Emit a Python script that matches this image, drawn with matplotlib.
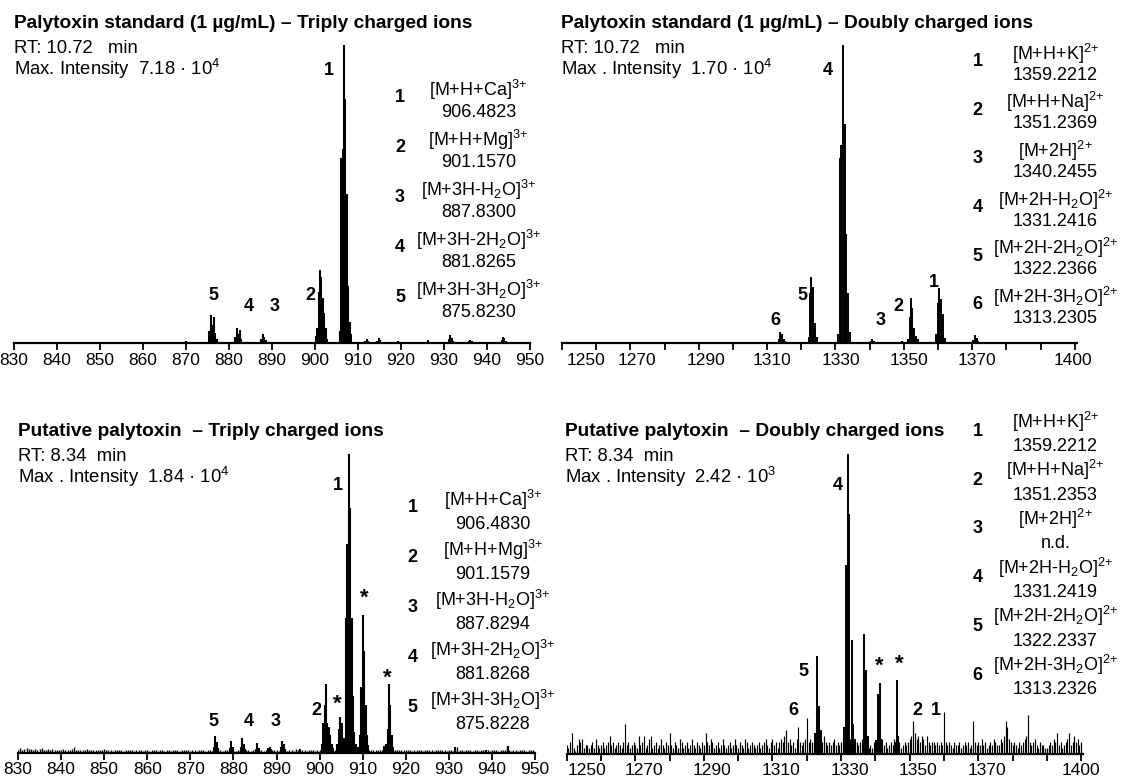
import numpy as np
import matplotlib
matplotlib.use("Agg")
import matplotlib.pyplot as plt

plt.rcParams['font.family'] = ['Liberation Sans', 'DejaVu Sans']
plt.rcParams['mathtext.fontset'] = 'custom'
plt.rcParams['mathtext.rm'] = 'Liberation Sans'
plt.rcParams['mathtext.it'] = 'Liberation Sans:italic'
plt.rcParams['mathtext.bf'] = 'Liberation Sans:bold'
plt.rcParams['mathtext.default'] = 'regular'

# ------------------------------------------------------------------ data
# Top-left: palytoxin standard, triply charged (relative intensity)
tl_mz = [869.9, 875.4, 875.74, 876.08, 876.42, 876.76, 877.1,
         881.45, 881.79, 882.12, 882.45, 882.8,
         887.5, 887.84, 888.17, 888.5, 895.7,
         900.2, 900.5, 900.83, 901.16, 901.5, 901.83, 902.16, 902.5, 902.83,
         905.8, 906.1, 906.42, 906.75, 907.08, 907.4, 907.72, 908.05, 908.4,
         911.7, 912.05, 912.4, 914.5, 914.8, 915.15, 915.5, 919.2,
         926.0, 926.3, 926.6, 931.1, 931.4, 931.75, 932.1,
         935.8, 936.1, 936.45, 943.4, 943.7, 944.05, 944.4]
tl_int = [0.008, 0.04, 0.095, 0.06, 0.087, 0.035, 0.012,
          0.02, 0.05, 0.03, 0.042, 0.015,
          0.012, 0.03, 0.02, 0.01, 0.005,
          0.025, 0.05, 0.17, 0.245, 0.22, 0.15, 0.10, 0.05, 0.015,
          0.04, 0.62, 0.65, 1.0, 0.82, 0.50, 0.19, 0.07, 0.03,
          0.006, 0.015, 0.008, 0.008, 0.017, 0.01, 0.005, 0.006,
          0.005, 0.01, 0.005, 0.012, 0.027, 0.018, 0.008,
          0.006, 0.011, 0.008, 0.01, 0.02, 0.018, 0.008]

# Top-right: palytoxin standard, doubly charged
tr_mz = [1313.35, 1313.85, 1314.35, 1314.85, 1315.35,
         1322.2, 1322.6, 1322.9, 1323.45, 1324.0, 1324.55,
         1330.8, 1331.3, 1331.75, 1332.2, 1332.65, 1333.2, 1333.7, 1334.2,
         1340.3, 1340.75, 1341.25, 1349.6,
         1351.3, 1351.75, 1352.05, 1352.5, 1353.0, 1353.5, 1354.0,
         1359.4, 1359.9, 1360.4, 1360.9, 1361.4, 1361.9,
         1370.3, 1370.8, 1371.3, 1371.8]
tr_int = [0.015, 0.038, 0.03, 0.015, 0.006,
          0.02, 0.167, 0.223, 0.187, 0.066, 0.021,
          0.03, 0.62, 0.665, 1.0, 0.734, 0.366, 0.167, 0.038,
          0.006, 0.013, 0.006, 0.008,
          0.015, 0.088, 0.152, 0.116, 0.049, 0.022, 0.012,
          0.03, 0.133, 0.184, 0.146, 0.096, 0.017,
          0.01, 0.027, 0.018, 0.008]

# Bottom-left: putative palytoxin, triply charged
bl_mz = [875.5, 875.8, 876.15, 876.5, 879.15, 879.45, 879.8,
         881.7, 882.0, 882.4, 882.7, 885.2, 885.5, 885.85,
         888.1, 888.4, 888.75, 891.0, 891.3, 891.65, 892.0, 895.5,
         900.5, 900.85, 901.18, 901.45, 901.8, 902.15, 902.5, 902.85, 903.2,
         904.1, 904.43, 904.76, 905.1, 905.43,
         905.75, 906.1, 906.45, 906.78, 907.1, 907.43, 907.76, 908.1, 908.45,
         909.0, 909.33, 909.66, 910.0, 910.33, 910.66, 911.0, 911.33,
         914.9, 915.45, 915.78, 916.12, 916.45, 916.8, 917.1,
         931.5, 938.6, 943.7]
bl_int = [0.02, 0.055, 0.036, 0.015, 0.015, 0.039, 0.02,
          0.02, 0.047, 0.03, 0.012, 0.012, 0.032, 0.015,
          0.015, 0.019, 0.012, 0.018, 0.039, 0.03, 0.012, 0.013,
          0.03, 0.10, 0.16, 0.23, 0.10, 0.085, 0.06, 0.03, 0.015,
          0.03, 0.08, 0.12, 0.10, 0.05,
          0.05, 0.45, 0.70, 1.0, 0.82, 0.45, 0.19, 0.07, 0.03,
          0.02, 0.06, 0.22, 0.46, 0.34, 0.16, 0.06, 0.025,
          0.021, 0.03, 0.08, 0.23, 0.16, 0.06, 0.02,
          0.017, 0.01, 0.021]
# baseline noise of bottom-left, per mille, every 0.5 from 830.0 to 950.0
bl_noise = [10, 14, 9, 12, 15, 11, 13, 10, 12, 9, 11, 14, 10, 8, 12, 9, 11, 10, 8, 9,
            9, 11, 8, 10, 7, 12, 17, 9, 8, 10, 7, 9, 11, 8, 10, 7, 9, 8, 10, 7,
            13, 8, 7, 9, 6, 8, 10, 7, 8, 6, 9, 7, 8, 10, 6, 7, 9, 8, 6, 7,
            8, 6, 9, 7, 8, 6, 7, 9, 6, 8, 7, 6, 9, 7, 8, 6, 7, 8, 10, 7,
            6, 7, 8, 6, 9, 7, 8, 6, 7, 8, 6, 7, 9, 7, 8, 6, 7, 8, 6, 7,
            7, 6, 8, 7, 6, 8, 7, 9, 6, 7, 8, 6, 7, 9, 6, 8, 7, 6, 8, 7,
            7, 6, 8, 7, 9, 6, 8, 7, 6, 12, 7, 6, 8, 7, 6, 8, 7, 9, 6, 8,
            8, 9, 10, 10, 10, 10, 9, 9, 10, 10, 9, 8, 10, 10, 9, 9, 10, 10, 9, 8,
            12, 10, 9, 8, 10, 9, 8, 7, 9, 8, 10, 9, 8, 7, 9, 8, 7, 9, 8, 7,
            8, 7, 9, 6, 8, 7, 9, 8, 6, 7, 8, 9, 7, 6, 8, 7, 9, 8, 7, 6,
            7, 8, 6, 9, 17, 8, 7, 6, 8, 7, 9, 6, 7, 8, 6, 7, 9, 8, 7, 6,
            8, 7, 9, 6, 8, 7, 7, 22, 9, 6, 8, 7, 6, 9, 7, 8, 6, 7, 8, 7, 6]

# Bottom-right: putative palytoxin, doubly charged
br_mz = [1322.3, 1322.85, 1323.3, 1323.65, 1324.1,
         1330.8, 1331.3, 1331.65, 1332.05, 1332.45, 1333.05, 1333.5, 1334.0,
         1336.8, 1337.3, 1337.8,
         1340.3, 1340.75, 1341.2, 1341.7,
         1345.8, 1346.2, 1346.7]
br_int = [0.07, 0.325, 0.10, 0.16, 0.08,
          0.09, 0.63, 0.63, 1.0, 0.80, 0.38, 0.10, 0.05,
          0.40, 0.28, 0.06,
          0.045, 0.20, 0.235, 0.05,
          0.04, 0.245, 0.06]
# noise of bottom-right, percent, every 0.5 from 1250.0 to 1400.0
br_noise = [3, 2, 4, 7, 2, 1, 3, 5, 4, 5, 2, 3, 3, 2, 3, 4, 2, 5, 3, 2,
            3, 4, 2, 3, 4, 6, 3, 4, 2, 3, 4, 3, 2, 4, 10, 3, 4, 2, 3, 4,
            3, 2, 6, 3, 4, 6, 2, 3, 5, 6, 2, 3, 4, 2, 3, 5, 3, 2, 4, 3,
            7, 3, 2, 4, 3, 2, 5, 4, 2, 3, 4, 2, 3, 5, 3, 2, 4, 3, 2, 4,
            3, 7, 4, 3, 5, 4, 2, 3, 4, 2, 3, 5, 3, 2, 3, 4, 2, 3, 5, 3,
            2, 4, 3, 2, 5, 4, 2, 3, 4, 3, 2, 3, 4, 2, 3, 4, 5, 3, 2, 4,
            5, 3, 4, 2, 4, 5, 4, 6, 8, 4, 5, 3, 4, 2, 5, 9, 4, 3, 4, 5,
            12, 4, 5, 4, 4, 7, 5, 6, 5, 4, 6, 4, 3, 4, 3, 4, 5, 3, 4, 3,
            4, 5, 5, 5, 5, 5, 5, 5, 4, 4, 3, 4, 5, 3, 4, 3, 2, 3, 2, 4,
            3, 4, 4, 3, 5, 3, 4, 2, 3, 4, 3, 5, 4, 3, 4, 2, 3, 4, 3, 4,
            5, 6, 11, 7, 5, 6, 4, 6, 5, 3, 6, 4, 3, 4, 4, 3, 4, 3, 4, 3,
            14, 4, 3, 4, 3, 2, 4, 3, 3, 4, 2, 3, 4, 3, 4, 2, 3, 11, 4, 3,
            4, 3, 5, 3, 4, 2, 3, 4, 3, 5, 4, 3, 3, 5, 4, 6, 11, 9, 5, 4,
            3, 4, 3, 2, 4, 3, 4, 5, 6, 13, 4, 3, 4, 5, 3, 2, 4, 3, 3, 2,
            2, 3, 4, 3, 5, 4, 7, 3, 4, 2, 3, 4, 5, 7, 3, 4, 6, 4, 5, 3, 4]

# peak annotations (label, m/z, relative height)
tl_labels = [("1", 903.2, 0.922), ("2", 899.0, 0.167), ("3", 890.7, 0.128),
             ("4", 884.65, 0.128), ("5", 876.3, 0.167)]
tr_labels = [("4", 1327.6, 0.922), ("5", 1320.2, 0.167), ("6", 1312.4, 0.083),
             ("3", 1343.2, 0.083), ("2", 1348.5, 0.128), ("1", 1358.8, 0.211)]
bl_labels = [("1", 904.2, 0.902), ("2", 899.2, 0.148), ("5", 875.3, 0.109),
             ("4", 883.6, 0.109), ("3", 889.7, 0.109),
             ("*", 904.2, 0.182), ("*", 910.4, 0.539), ("*", 915.8, 0.271)]
br_labels = [("4", 1328.9, 0.902), ("5", 1319.0, 0.28), ("6", 1316.1, 0.151),
             ("*", 1341.2, 0.312), ("*", 1347.1, 0.318),
             ("2", 1352.2, 0.151), ("1", 1357.7, 0.151)]

# legends
tri_ions = ["[M+H+Ca]$^{3\\!+}$", "[M+H+Mg]$^{3\\!+}$", "[M+3H-H$_2$O]$^{3\\!+}$",
            "[M+3H-2H$_2$O]$^{3\\!+}$", "[M+3H-3H$_2$O]$^{3\\!+}$"]
di_ions = ["[M+H+K]$^{2\\!+}$", "[M+H+Na]$^{2\\!+}$", "[M+2H]$^{2\\!+}$",
           "[M+2H-H$_2$O]$^{2\\!+}$", "[M+2H-2H$_2$O]$^{2\\!+}$", "[M+2H-3H$_2$O]$^{2\\!+}$"]
tl_vals = ["906.4823", "901.1570", "887.8300", "881.8265", "875.8230"]
bl_vals = ["906.4830", "901.1579", "887.8294", "881.8268", "875.8228"]
tr_vals = ["1359.2212", "1351.2369", "1340.2455", "1331.2416", "1322.2366", "1313.2305"]
br_vals = ["1359.2212", "1351.2353", "n.d.", "1331.2419", "1322.2337", "1313.2326"]

tri_ticks = list(range(830, 951, 10))
di_ticks = list(range(1250, 1401, 10))
di_labels = [1250, 1270, 1290, 1310, 1330, 1350, 1370, 1400]

# ------------------------------------------------------------------ figure
W, H = 1123, 782
fig = plt.figure(figsize=(W / 100, H / 100), dpi=100)

LABEL_FS = 13
TICK_FS = 12.5


def px_axes(x0, x1, ybase, ytop):
    return fig.add_axes([x0 / W, 1 - ybase / H, (x1 - x0) / W, (ybase - ytop) / H])


def style(ax, xlim):
    ax.set_xlim(*xlim)
    ax.set_ylim(0, 1.0)
    for s in ("top", "left", "right"):
        ax.spines[s].set_visible(False)
    ax.spines["bottom"].set_linewidth(1.6)
    ax.set_yticks([])
    ax.tick_params(axis="x", which="major", direction="out", length=5, width=1.3,
                   labelsize=TICK_FS, pad=2)
    ax.patch.set_alpha(0)


def ftext(x, yb, s, **kw):
    fig.text(x / W, 1 - yb / H, s, va="baseline", **kw)


def peak_labels(ax, labels):
    for lab, x, y in labels:
        if lab == "*":
            ax.annotate(lab, xy=(x, y), xytext=(0, -8.5), textcoords="offset points",
                        ha="center", va="baseline", fontsize=16, fontweight="bold",
                        annotation_clip=False)
        else:
            ax.annotate(lab, xy=(x, y), xytext=(0, -4.7), textcoords="offset points",
                        ha="center", va="baseline", fontsize=LABEL_FS, fontweight="bold",
                        annotation_clip=False)


def legend(xnum, xname, yb0, step, d1, d2, names, vals):
    for i, (n, v) in enumerate(zip(names, vals)):
        yb = yb0 + i * step
        ftext(xnum, yb, str(i + 1), ha="center", fontsize=LABEL_FS, fontweight="bold")
        ftext(xname, yb + d1, n, ha="center", fontsize=13)
        ftext(xname, yb + d2, v, ha="center", fontsize=13)


def header(x, yb, title, rt, mx):
    ftext(x, yb, title, ha="left", fontsize=13.8, fontweight="bold")
    ftext(x, yb + 24.7, rt, ha="left", fontsize=13.3)
    ftext(x, yb + 47, mx, ha="left", fontsize=13.3)


def doubly_axis(ax, offsets):
    ax.xaxis.remove_overlapping_locs = False
    ax.set_xticks(di_ticks)
    ax.set_xticklabels([])
    pos = [v + o for v, o in zip(di_labels, offsets)]
    ax.set_xticks(pos, [str(v) for v in di_labels], minor=True)
    ax.tick_params(axis="x", which="minor", length=0, labelsize=TICK_FS, pad=7)


# --- top-left
ax = px_axes(14, 530, 343, 45)
style(ax, (830, 950))
ax.vlines(tl_mz, 0, tl_int, color="black", lw=1.5, clip_on=False)
ax.set_xticks(tri_ticks)
peak_labels(ax, tl_labels)
header(13.6, 28, "Palytoxin standard (1 µg/mL) – Triply charged ions",
       "RT: 10.72   min", "Max. Intensity  7.18 · 10$^4$")
legend(400, 478.6, 101.7, 50, -6.0, 15.6, tri_ions, tl_vals)

# --- top-right
ax = px_axes(562, 1076.5, 343, 45)
style(ax, (1250, 1400.5))
ax.vlines(tr_mz, 0, tr_int, color="black", lw=1.4, clip_on=False)
doubly_axis(ax, [7, 2, 2, 1.5, 1.5, 1.5, 1.5, -0.5])
peak_labels(ax, tr_labels)
header(561, 28, "Palytoxin standard (1 µg/mL) – Doubly charged ions",
       "RT: 10.72   min", "Max . Intensity  1.70 · 10$^4$")
legend(977.6, 1055.5, 66, 48.7, -6.5, 13.5, di_ions, tr_vals)

# --- bottom-left
ax = px_axes(18, 535, 752.5, 454)
style(ax, (830, 950))
bl_x = 830 + 0.5 * np.arange(len(bl_noise))
ax.vlines(bl_x, 0, np.array(bl_noise) / 1000.0, color="black", lw=1.0)
ax.vlines(bl_mz, 0, bl_int, color="black", lw=1.5, clip_on=False)
ax.set_xticks(tri_ticks)
peak_labels(ax, bl_labels)
header(17.9, 436, "Putative palytoxin  – Triply charged ions",
       "RT: 8.34  min", "Max . Intensity  1.84 · 10$^4$")
legend(412.5, 492.9, 512.5, 50, -6.5, 16.8, tri_ions, bl_vals)

# --- bottom-right
ax = px_axes(566.7, 1082.9, 753.5, 454)
style(ax, (1250, 1400.5))
br_x = 1250 + 0.5 * np.arange(len(br_noise))
ax.vlines(br_x, 0, np.array(br_noise) / 100.0, color="black", lw=0.85)
ax.vlines(br_mz, 0, br_int, color="black", lw=1.4, clip_on=False)
doubly_axis(ax, [6, 2.5, 2.5, 2.5, 2.5, 2.5, 2.5, -0.2])
peak_labels(ax, br_labels)
header(565.4, 436, "Putative palytoxin  – Doubly charged ions",
       "RT: 8.34  min", "Max . Intensity  2.42 · 10$^3$")
legend(977.6, 1055.5, 436, 48.7, -8.3, 15.0, di_ions, br_vals)

fig.savefig("out.png", dpi=100)
